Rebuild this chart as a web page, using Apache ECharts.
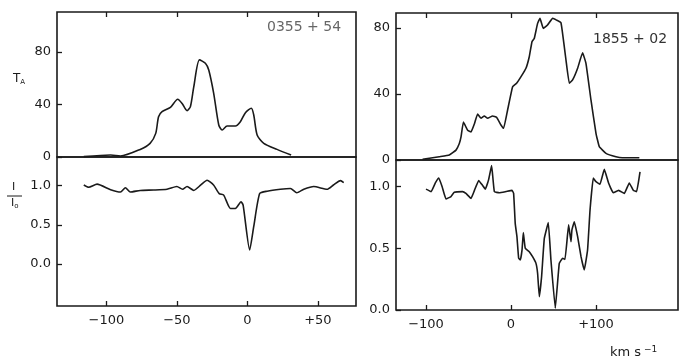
<!DOCTYPE html>
<html><head><meta charset="utf-8">
<script src="https://cdn.jsdelivr.net/npm/echarts@6/dist/echarts.min.js"></script>
<style>html,body{margin:0;padding:0;background:#fff}#c{width:686px;height:359px}</style>
</head><body><div id="c"></div>
<script>
// 0355+54 antenna temperature (velocity km/s, T_A)
const leftTA = [[-116,0.3],[-97,1.5],[-90,0.8],[-76,5.8],[-69,10.4],[-65,18],[-63,30.7],[-60.5,34.5],[-54.6,37.8],[-49.4,44],[-46.3,40.8],[-42.8,35.3],[-40.4,38.4],[-38,53.6],[-34,74],[-29.8,71.4],[-27.4,66.3],[-23.9,48.5],[-20.3,24.4],[-17.9,20.6],[-14.4,23.6],[-8.5,23.6],[-5,26.9],[-1.4,33.8],[2.8,37.1],[4.5,32],[6.9,16.8],[11.6,10.4],[21,5.8],[31,1.5]];
// 0355+54 absorption I/I0
const leftAbs = [[-116,1.01],[-112.5,0.98],[-106.6,1.02],[-97,0.95],[-90,0.92],[-86.5,0.975],[-83,0.92],[-76,0.94],[-66.5,0.945],[-57,0.955],[-50,0.99],[-46,0.955],[-42.8,0.99],[-38,0.94],[-33,1.01],[-28.6,1.07],[-24,1.01],[-20,0.9],[-16.8,0.88],[-12,0.71],[-8.5,0.71],[-4.5,0.795],[-3,0.75],[1.6,0.18],[4.5,0.48],[8.7,0.9],[14,0.93],[23.4,0.955],[30.5,0.965],[35,0.91],[40,0.955],[47,0.99],[56.5,0.955],[61,1.01],[66,1.065],[68.3,1.04]];
// 1855+02 antenna temperature
const rightTA = [[-104,0.4],[-84.4,2],[-72.6,3],[-64.7,6],[-60.8,10],[-58.8,14],[-56,23],[-51,18],[-47,17],[-43,22],[-39.3,27.9],[-35.3,25.3],[-31.4,26.7],[-27.5,25.3],[-21.6,26.7],[-17,25.9],[-11.8,21.2],[-8.7,19.2],[-4,30.3],[1.9,44.4],[6.6,46.5],[11.8,50.5],[17.6,55.6],[21.5,62.6],[24.7,71.7],[27.4,73.7],[31.3,82.8],[34.1,85.9],[38,79.8],[43,81.8],[49,85.9],[53.6,84.8],[58.8,83.2],[62.7,68.7],[64.7,60.6],[68.6,46.5],[72.5,48.5],[78.4,55.6],[84.2,65],[88.2,58.6],[94.1,36.4],[100,16.2],[103.9,8.1],[111.8,4],[123.5,2],[131,1.4],[151,1.4]];
// 1855+02 absorption I/I0
const rightAbs = [[-100,0.98],[-94,0.96],[-89,1.03],[-85,1.07],[-81,1.0],[-76.5,0.9],[-70.6,0.92],[-66.7,0.955],[-57,0.96],[-53,0.945],[-47,0.905],[-43,0.97],[-38,1.05],[-33.4,1.01],[-30.2,0.98],[-26.4,1.055],[-22.8,1.17],[-19.6,0.96],[-13.8,0.95],[-5.9,0.96],[1.2,0.97],[3.1,0.945],[5,0.70],[7,0.595],[9,0.42],[11,0.405],[13,0.487],[14.5,0.627],[16.8,0.5],[21.5,0.473],[25.4,0.432],[29.4,0.378],[31.3,0.298],[33.3,0.108],[36,0.27],[39.2,0.58],[43.9,0.708],[47,0.405],[52.1,0.014],[56.8,0.378],[60.7,0.419],[63.5,0.41],[67.8,0.69],[70.6,0.554],[71.7,0.65],[74.5,0.716],[78.4,0.595],[82.4,0.432],[86.2,0.324],[90.1,0.487],[93,0.81],[96.8,1.07],[100,1.04],[104.7,1.02],[109.8,1.14],[114.8,1.03],[120.4,0.95],[126.6,0.97],[133.3,0.945],[139.2,1.03],[143.9,0.97],[147.8,0.96],[151.8,1.12]];
const leftXTicks = [-100,-50,0,50];
const rightXTicks = [-100,0,100];
const taTicks = [0,40,80];
const absTicks = [0,0.5,1.0];

const INK = '#1a1a1a';
const FONT = 'DejaVu Sans';
function xFmt(v){ return v>0 ? '+'+v : (v<0 ? '\u2212'+(-v) : '0'); }
function xAxis(grid, min, max, ticks, pos, labels){
  return {type:'value', gridIndex:grid, min:min, max:max, position:pos,
    axisLine:{show:false, onZero:false}, splitLine:{show:false},
    axisTick:{show:true, inside:true, length:5, customValues:ticks, lineStyle:{color:INK,width:1.3}},
    axisLabel:{show:labels, customValues:ticks, formatter:xFmt, color:INK, fontFamily:FONT, fontSize:13, margin:8}};
}
function yAxis(grid, min, max, ticks, dec){
  return {type:'value', gridIndex:grid, min:min, max:max,
    axisLine:{show:false, onZero:false}, splitLine:{show:false},
    axisTick:{show:true, inside:true, length:5, customValues:ticks, lineStyle:{color:INK,width:1.3}},
    axisLabel:{customValues:ticks, formatter:v=>v.toFixed(dec), color:INK, fontFamily:FONT, fontSize:13, margin:6}};
}
function line(i, data, sm){
  return {type:'line', xAxisIndex:i, yAxisIndex:i, data:data, showSymbol:false, smooth:sm,
    lineStyle:{color:INK, width:1.6}, animation:false};
}
const border = {show:true, borderColor:INK, borderWidth:1.6, backgroundColor:'transparent'};
const option = {
  animation:false,
  grid:[
    Object.assign({left:57, top:12, width:299, height:145}, border),
    Object.assign({left:57, top:157, width:299, height:149}, border),
    Object.assign({left:396, top:13, width:282, height:147}, border),
    Object.assign({left:396, top:160, width:282, height:150}, border)
  ],
  xAxis:[
    xAxis(0,-135,77,leftXTicks,'top',false),
    xAxis(1,-135,77,leftXTicks,'bottom',true),
    xAxis(2,-135.3,196.5,rightXTicks,'top',false),
    xAxis(3,-135.3,196.5,rightXTicks,'bottom',true)
  ],
  yAxis:[
    yAxis(0,0,110.5,taTicks,0),
    yAxis(1,-0.536,1.367,absTicks,1),
    yAxis(2,0,89.1,taTicks,0),
    yAxis(3,0,1.216,absTicks,1)
  ],
  series:[line(0,leftTA,0.25), line(1,leftAbs,0.2), line(2,rightTA,0.1), line(3,rightAbs,0.1)],
  graphic:[
    {type:'text', left:267, top:20, style:{text:'0355 + 54', fill:'#666', font:'14px '+FONT}},
    {type:'text', left:593, top:32, style:{text:'1855 + 02', fill:'#333', font:'14px '+FONT}},
    {type:'text', left:13, top:73, style:{rich:{a:{fontSize:12,fontFamily:FONT,fill:INK},b:{fontSize:7,fontFamily:FONT,fill:INK,verticalAlign:'bottom',padding:[6,0,0,0]}}, text:'{a|T}{b|A}'}},
    {type:'text', left:12, top:182, style:{text:'I', fill:INK, font:'11px '+FONT}},
    {type:'line', shape:{x1:7, y1:196, x2:22, y2:196}, style:{stroke:INK, lineWidth:1}},
    {type:'text', left:11, top:198, style:{rich:{a:{fontSize:11,fontFamily:FONT,fill:INK},b:{fontSize:7,fontFamily:FONT,fill:INK,padding:[6,0,0,0]}}, text:'{a|I}{b|o}'}},
    {type:'text', left:610, top:345, style:{rich:{a:{fontSize:13,fontFamily:FONT,fill:INK},b:{fontSize:9,fontFamily:FONT,fill:INK,padding:[0,0,7,0]}}, text:'{a|km s}{b| \u22121}'}}
  ]
};
echarts.init(document.getElementById('c'), null, {renderer:'canvas'}).setOption(option);
</script></body></html>
